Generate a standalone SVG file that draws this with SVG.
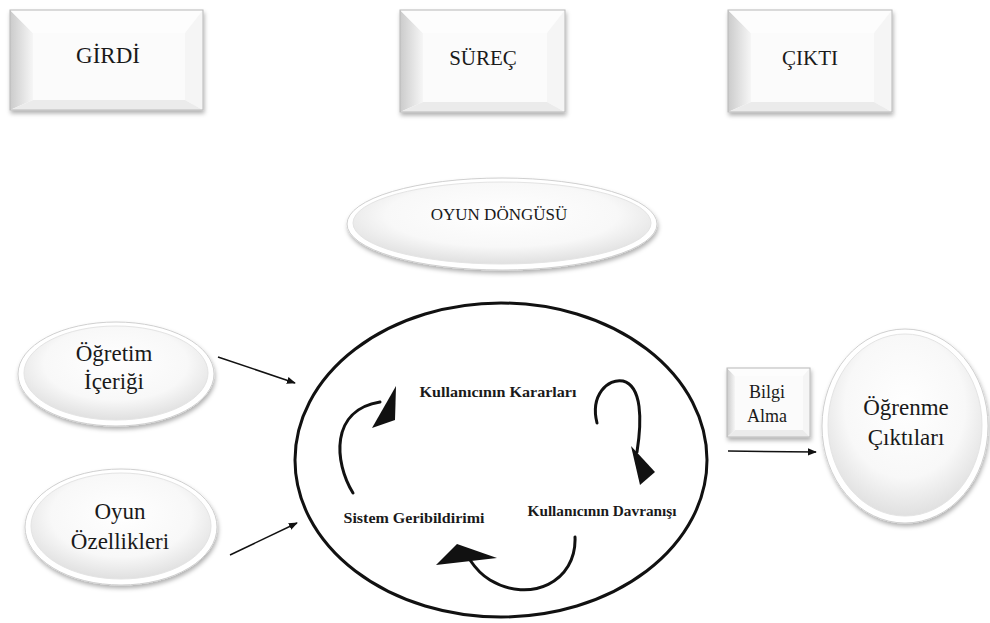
<svg xmlns="http://www.w3.org/2000/svg" width="990" height="623" viewBox="0 0 990 623">
<defs>
<style>
text{font-family:'Liberation Serif','Times New Roman','DejaVu Serif',serif}
.t{fill:#1a1a1a;text-anchor:middle}
.h{font-size:21px}
.n{font-size:23px}
.s{font-size:18px}
.b{font-size:15px;font-weight:bold}
.bl{fill:url(#gLeft)}
.bt{fill:#fdfdfd}
.br{fill:#f5f5f5}
.bb{fill:#ebebeb}
.bi{fill:#fbfbfb}
.edge{fill:none;stroke:#b8b8b8;stroke-width:1}
.el{fill:#ffffff;stroke:#cfcfcf;stroke-width:1}
.eli{fill:url(#gOval);stroke:#e4e4e4;stroke-width:1}
.con{fill:none;stroke:#111;stroke-width:1.5}
.cur{fill:none;stroke:#111;stroke-width:3;stroke-linecap:round}
.head{fill:#111}
</style>
<linearGradient id="gLeft" x1="0" y1="0" x2="1" y2="0">
<stop offset="0" stop-color="#cbcbcb"/>
<stop offset="1" stop-color="#f6f6f6"/>
</linearGradient>
<radialGradient id="gOval" cx="0.5" cy="0.4" r="0.6">
<stop offset="0" stop-color="#ffffff"/>
<stop offset="0.65" stop-color="#f8f8f8"/>
<stop offset="1" stop-color="#e0e0e0"/>
</radialGradient>
<filter id="sh" x="-20%" y="-20%" width="140%" height="150%">
<feDropShadow dx="1" dy="3" stdDeviation="2" flood-color="#000" flood-opacity="0.3"/>
</filter>
<marker id="arr" viewBox="0 0 10 10" refX="9" refY="5" markerWidth="6" markerHeight="6" orient="auto" markerUnits="strokeWidth">
<path d="M0,1 L10,5 L0,9 Z" fill="#111"/>
</marker>
</defs>
<rect width="990" height="623" fill="#ffffff"/>

<g id="girdi">
<g filter="url(#sh)">
<rect x="10" y="10" width="193" height="100" fill="#fff"/>
<polygon class="bl" points="10,10 33,33 33,100 10,110"/>
<polygon class="bt" points="10,10 203,10 185,33 33,33"/>
<polygon class="br" points="203,10 203,110 185,100 185,33"/>
<polygon class="bb" points="10,110 203,110 185,100 33,100"/>
<rect class="bi" x="33" y="33" width="152" height="67"/>
<rect class="edge" x="10" y="10" width="193" height="100"/>
</g>
<text class="t h" x="108" y="63" font-family="Liberation Serif, serif" style="font-size:23px">GİRDİ</text>
</g>

<g id="surec">
<g filter="url(#sh)">
<rect x="400" y="10" width="165" height="102" fill="#fff"/>
<polygon class="bl" points="400,10 423,33 423,102 400,112"/>
<polygon class="bt" points="400,10 565,10 547,33 423,33"/>
<polygon class="br" points="565,10 565,112 547,102 547,33"/>
<polygon class="bb" points="400,112 565,112 547,102 423,102"/>
<rect class="bi" x="423" y="33" width="124" height="69"/>
<rect class="edge" x="400" y="10" width="165" height="102"/>
</g>
<text class="t h" x="483" y="65" font-family="Liberation Serif, serif">SÜREÇ</text>
</g>

<g id="cikti">
<g filter="url(#sh)">
<rect x="728" y="10" width="164" height="102" fill="#fff"/>
<polygon class="bl" points="728,10 751,33 751,102 728,112"/>
<polygon class="bt" points="728,10 892,10 874,33 751,33"/>
<polygon class="br" points="892,10 892,112 874,102 874,33"/>
<polygon class="bb" points="728,112 892,112 874,102 751,102"/>
<rect class="bi" x="751" y="33" width="123" height="69"/>
<rect class="edge" x="728" y="10" width="164" height="102"/>
</g>
<text class="t h" x="810" y="65" font-family="Liberation Serif, serif">ÇIKTI</text>
</g>

<g id="oyun-dongusu">
<ellipse class="el" cx="502" cy="224" rx="155" ry="46" filter="url(#sh)"/>
<ellipse class="eli" cx="502" cy="223" rx="149" ry="41"/>
<text class="t" x="499" y="220" font-family="Liberation Serif, serif" style="font-size:17px">OYUN DÖNGÜSÜ</text>
</g>

<g id="ogretim-icerigi">
<ellipse class="el" cx="116" cy="374" rx="98" ry="52" filter="url(#sh)"/>
<ellipse class="eli" cx="116" cy="373" rx="92" ry="47"/>
<text class="t n" x="114" y="361" font-family="Liberation Serif, serif">Öğretim</text>
<text class="t n" x="114" y="389" font-family="Liberation Serif, serif">İçeriği</text>
</g>

<g id="oyun-ozellikleri">
<ellipse class="el" cx="121" cy="527" rx="96" ry="58" filter="url(#sh)"/>
<ellipse class="eli" cx="121" cy="526" rx="90" ry="53"/>
<text class="t n" x="120" y="519" font-family="Liberation Serif, serif">Oyun</text>
<text class="t n" x="120" y="549" font-family="Liberation Serif, serif">Özellikleri</text>
</g>

<g id="oyun-dongusu-cember">
<ellipse cx="501" cy="460" rx="206" ry="157" fill="none" stroke="#111" stroke-width="3"/>
<text class="t b" x="498" y="397" font-family="Liberation Serif, serif" textLength="157" lengthAdjust="spacingAndGlyphs">Kullanıcının Kararları</text>
<text class="t b" x="602" y="516" font-family="Liberation Serif, serif" textLength="149" lengthAdjust="spacingAndGlyphs">Kullanıcının Davranışı</text>
<text class="t b" x="414" y="523" font-family="Liberation Serif, serif" textLength="141" lengthAdjust="spacingAndGlyphs">Sistem Geribildirimi</text>
</g>

<g id="bilgi-alma">
<g filter="url(#sh)">
<rect x="727" y="368" width="83" height="69" fill="#fff"/>
<polygon class="bl" points="727,368 735,376 735,430 727,437"/>
<polygon class="bt" points="727,368 810,368 803,376 735,376"/>
<polygon class="br" points="810,368 810,437 803,430 803,376"/>
<polygon class="bb" points="727,437 810,437 803,430 735,430"/>
<rect class="bi" x="735" y="376" width="68" height="54"/>
<rect class="edge" x="727" y="368" width="83" height="69"/>
</g>
<text class="t s" x="767" y="398" font-family="Liberation Serif, serif">Bilgi</text>
<text class="t s" x="767" y="422" font-family="Liberation Serif, serif">Alma</text>
</g>

<g id="ogrenme-ciktilari">
<ellipse class="el" cx="905" cy="426" rx="83" ry="97" filter="url(#sh)"/>
<ellipse class="eli" cx="905" cy="425" rx="77" ry="91"/>
<text class="t n" x="906" y="415" font-family="Liberation Serif, serif">Öğrenme</text>
<text class="t n" x="906" y="445" font-family="Liberation Serif, serif">Çıktıları</text>
</g>

<g id="connectors">
<line class="con" x1="218" y1="357" x2="295" y2="383" marker-end="url(#arr)"/>
<line class="con" x1="230" y1="555" x2="297" y2="523" marker-end="url(#arr)"/>
<line class="con" x1="728" y1="451" x2="816" y2="452" marker-end="url(#arr)"/>
<path class="cur" d="M353,493 C334,462 330,410 380,402"/>
<polygon class="head" points="372,428 396,386 395,420"/>
<path class="cur" d="M597,423 C590,395 608,378 623,381 C642,386 642,420 637,452"/>
<polygon class="head" points="631,446 655,472 640,485"/>
<path class="cur" d="M575,537 C577,582 530,604 490,580 C480,574 474,566 470,560"/>
<polygon class="head" points="457,544 436,565 497,558"/>
</g>
</svg>
